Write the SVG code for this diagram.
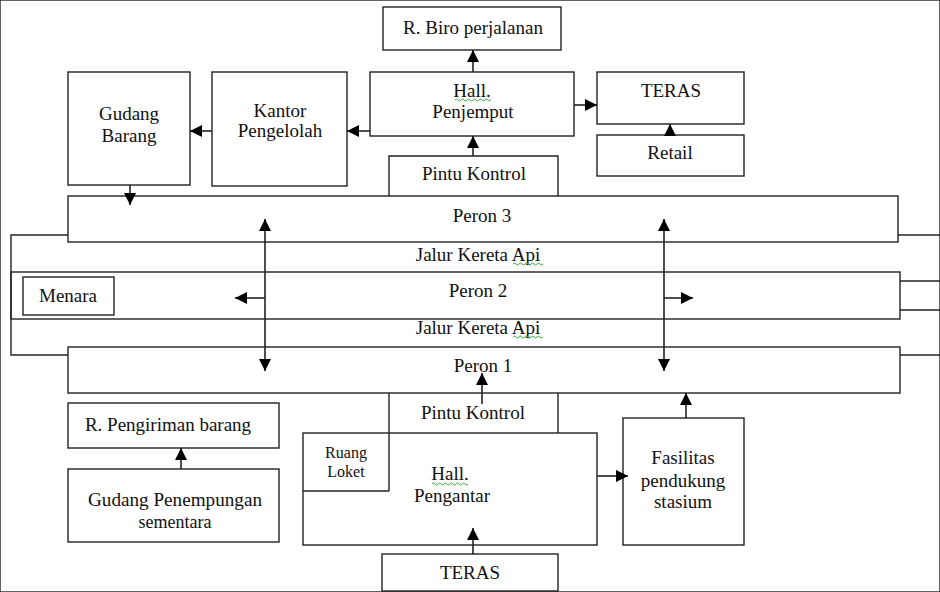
<svg xmlns="http://www.w3.org/2000/svg" width="940" height="592" viewBox="0 0 940 592">
  <defs>
    <marker id="arrow" markerUnits="userSpaceOnUse" markerWidth="13" markerHeight="12" refX="12" refY="6" orient="auto-start-reverse">
      <path d="M0,0 L12,6 L0,12 z" fill="#000"/>
    </marker>
    <style>
      rect, .frame { fill: none; stroke: #222; stroke-width: 1.4; }
      text { font-family: "Liberation Serif", "Times New Roman", serif; font-size: 19px; fill: #111; text-anchor: middle; }
      .small { font-size: 16px; }
      .tight { font-size: 18px; }
      .conn { fill: none; stroke: #222; stroke-width: 1.6; marker-end: url(#arrow); }
      .both { marker-start: url(#arrow); }
      .line { fill: none; stroke: #222; stroke-width: 1.4; }
      .squiggle { fill: none; stroke: #3aa83a; stroke-width: 1; }
    </style>
  </defs>
  <rect width="940" height="592" fill="#fff" stroke="none"/>

  <!-- track frame and platform outlines -->
  <g id="tracks">
    <path class="line" d="M68,235 H11 V355 H68"/>
    <path class="line" d="M898,235 H940 M900,281 H940 M900,310 H940 M900,355 H940"/>
    <path class="line" d="M389,393 V491"/>
  </g>

  <g id="peron3">
    <rect x="68" y="196" width="830" height="46"/>
    <text x="482" y="222">Peron 3</text>
  </g>
  <g id="jalur1">
    <text x="478" y="261">Jalur Kereta Api</text>
    <path class="squiggle" d="M513,264 q1.5,-2 3,0 t3,0 t3,0 t3,0 t3,0 t3,0 t3,0 t3,0 t3,0 t3,0"/>
  </g>
  <g id="peron2">
    <rect x="11" y="272" width="889" height="47"/>
    <text x="478" y="297">Peron 2</text>
  </g>
  <g id="jalur2">
    <text x="478" y="334">Jalur Kereta Api</text>
    <path class="squiggle" d="M513,337 q1.5,-2 3,0 t3,0 t3,0 t3,0 t3,0 t3,0 t3,0 t3,0 t3,0 t3,0"/>
  </g>
  <g id="peron1">
    <rect x="68" y="347" width="832" height="46"/>
    <text x="483" y="372">Peron 1</text>
  </g>
  <g id="menara">
    <rect x="23" y="277" width="91" height="38"/>
    <text x="68" y="302">Menara</text>
  </g>

  <!-- upper buildings -->
  <g id="biro">
    <rect x="383" y="7" width="178" height="43"/>
    <text x="473" y="34">R. Biro perjalanan</text>
  </g>
  <g id="gudang-barang">
    <rect x="68" y="72" width="122" height="113"/>
    <text x="129" y="120">Gudang</text>
    <text x="129" y="142">Barang</text>
  </g>
  <g id="kantor">
    <rect x="212" y="72" width="135" height="114"/>
    <text x="280" y="117">Kantor</text>
    <text x="280" y="137">Pengelolah</text>
  </g>
  <g id="hall-penjemput">
    <rect x="370" y="72" width="204" height="64"/>
    <text x="472" y="97">Hall.</text>
    <path class="squiggle" d="M455,100 q1.5,-2 3,0 t3,0 t3,0 t3,0 t3,0 t3,0 t3,0 t3,0 t3,0 t3,0 t3,0 t3,0"/>
    <text x="473" y="118">Penjemput</text>
  </g>
  <g id="pintu-kontrol-atas">
    <path class="line" d="M389,196 V156 H558 V196"/>
    <text x="474" y="180">Pintu Kontrol</text>
  </g>
  <g id="teras-atas">
    <rect x="597" y="72" width="147" height="52"/>
    <text x="671" y="97">TERAS</text>
  </g>
  <g id="retail">
    <rect x="597" y="135" width="147" height="41"/>
    <text x="670" y="159">Retail</text>
  </g>

  <!-- lower buildings -->
  <g id="pintu-kontrol-bawah">
    <path class="line" d="M558,393 V433"/>
    <text x="473" y="419">Pintu Kontrol</text>
  </g>
  <g id="hall-pengantar">
    <rect x="303" y="433" width="294" height="112"/>
    <text x="450" y="480">Hall.</text>
    <path class="squiggle" d="M432,484 q1.5,-2 3,0 t3,0 t3,0 t3,0 t3,0 t3,0 t3,0 t3,0 t3,0 t3,0 t3,0 t3,0"/>
    <text x="452" y="502">Pengantar</text>
  </g>
  <g id="ruang-loket">
    <path class="line" d="M303,491 H389"/>
    <text class="small" x="346" y="458">Ruang</text>
    <text class="small" x="346" y="477">Loket</text>
  </g>
  <g id="teras-bawah">
    <rect x="382" y="554" width="176" height="37"/>
    <text x="470" y="579">TERAS</text>
  </g>
  <g id="fasilitas">
    <rect x="623" y="418" width="121" height="127"/>
    <text x="683" y="464">Fasilitas</text>
    <text x="683" y="487">pendukung</text>
    <text x="683" y="508">stasium</text>
  </g>
  <g id="pengiriman">
    <rect x="68" y="403" width="211" height="45"/>
    <text x="168" y="431">R. Pengiriman barang</text>
  </g>
  <g id="gudang-penempungan">
    <rect x="68" y="469" width="211" height="73"/>
    <text class="tight" x="175" y="506" textLength="174" lengthAdjust="spacingAndGlyphs">Gudang Penempungan</text>
    <text class="tight" x="175" y="528">sementara</text>
  </g>

  <!-- connectors -->
  <g id="connectors">
    <path class="conn" d="M473,72 V50"/>
    <path class="conn" d="M473,156 V136"/>
    <path class="conn" d="M574,105 H597"/>
    <path class="conn" d="M370,131 H347"/>
    <path class="conn" d="M212,131 H190"/>
    <path class="conn" d="M670,135 V124"/>
    <path class="conn" d="M130,185 V205"/>
    <path class="conn both" d="M265,219 V371"/>
    <path class="conn" d="M265,298 H235"/>
    <path class="conn both" d="M664,219 V371"/>
    <path class="conn" d="M664,298 H693"/>
    <path class="conn" d="M482,404 V373"/>
    <path class="conn" d="M473,554 V528"/>
    <path class="conn" d="M597,476 H628"/>
    <path class="conn" d="M686,418 V393"/>
    <path class="conn" d="M181,469 V448"/>
  </g>
</svg>
